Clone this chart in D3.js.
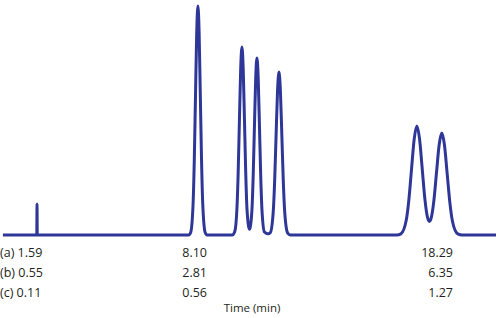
<!DOCTYPE html>
<html>
<head>
<meta charset="utf-8">
<script src="https://cdn.jsdelivr.net/npm/d3@7"></script>
<style>
  html, body { margin: 0; padding: 0; background: #fff; }
  svg { display: block; }
  text { font-family: "Open Sans", sans-serif; fill: #231f20; }
</style>
</head>
<body>
<svg id="chart" width="498" height="318"></svg>
<script>
// Chromatogram trace: [time (min), relative signal]
const baselineStart = [[0.12, 0], [1.48, 0]];
const voidSpike = [[1.52, 0], [1.53, 13.5], [1.54, 0]];
const peakA = [
  [7.80, 0], [7.88, 1.1], [7.98, 13.5], [8.03, 32.4], [8.08, 60.4], [8.13, 87.9],
  [8.18, 99.6], [8.23, 87.9], [8.28, 60.4], [8.33, 32.4], [8.38, 13.5], [8.48, 1.1], [8.56, 0]
];
const peakTriplet = [
  [9.60, 0], [9.70, 1.4], [9.79, 11.0], [9.845, 27.5], [9.895, 49.6], [9.948, 72.3],
  [10.00, 81.7], [10.052, 72.3], [10.105, 49.6], [10.155, 27.5], [10.21, 11.0],
  [10.31, 2.5],
  [10.41, 10.4], [10.465, 26.0], [10.515, 46.7], [10.568, 68.1], [10.62, 77.0],
  [10.672, 68.1], [10.725, 46.7], [10.775, 26.0], [10.83, 10.4], [10.93, 1.3],
  [11.075, 0.5], [11.17, 1.0],
  [11.29, 9.6], [11.35, 23.0], [11.41, 43.0], [11.47, 62.5], [11.53, 70.9],
  [11.59, 62.5], [11.65, 43.0], [11.71, 23.0], [11.77, 9.6], [11.89, 0.8], [12.00, 0]
];
const peakPair = [
  [16.40, 0], [16.57, 0.5], [16.79, 6.4], [16.90, 15.4], [17.01, 28.8], [17.12, 41.8],
  [17.23, 47.4], [17.34, 41.8], [17.45, 28.9], [17.56, 15.7], [17.67, 7.6],
  [17.745, 5.9], [17.82, 7.3], [17.93, 14.7], [18.04, 27.0], [18.15, 39.1],
  [18.26, 44.3], [18.37, 39.1], [18.48, 26.9], [18.59, 14.4], [18.70, 6.0],
  [18.92, 0.5], [19.10, 0]
];
const baselineEnd = [[20.50, 0]];

// Retention-time table rows
const rowLabels = ["(a)", "(b)", "(c)"];
const timesFirst = [1.59, 0.55, 0.11];
const timesSecond = [8.10, 2.81, 0.56];
const timesLast = [18.29, 6.35, 1.27];
const axisTitle = "Time (min)";

const svg = d3.select("#chart");
const x = d3.scaleLinear().domain([0, 20.5]).range([0, 496]);
const y = d3.scaleLinear().domain([0, 100]).range([235, 5]);

const trace = [].concat(baselineStart, voidSpike, peakA, peakTriplet, peakPair, baselineEnd);

const line = d3.line()
  .x(d => x(d[0]))
  .y(d => y(d[1]))
  .curve(d3.curveMonotoneX);

svg.append("path")
  .datum(trace)
  .attr("d", line)
  .attr("fill", "none")
  .attr("stroke", "#2e3797")
  .attr("stroke-width", 3)
  .attr("stroke-linejoin", "round")
  .attr("stroke-linecap", "butt");

const rowY = [257, 277, 297];
const g = svg.append("g").attr("font-size", 12.5);

g.selectAll("text.c1").data(rowLabels).join("text")
  .attr("class", "c1")
  .attr("x", 0).attr("y", (d, i) => rowY[i])
  .text((d, i) => d + " " + timesFirst[i].toFixed(2));

g.selectAll("text.c2").data(timesSecond).join("text")
  .attr("class", "c2")
  .attr("x", 207).attr("y", (d, i) => rowY[i])
  .attr("text-anchor", "end")
  .text(d => d.toFixed(2));

g.selectAll("text.c3").data(timesLast).join("text")
  .attr("class", "c3")
  .attr("x", 453).attr("y", (d, i) => rowY[i])
  .attr("text-anchor", "end")
  .text(d => d.toFixed(2));

svg.append("text")
  .attr("x", 252).attr("y", 312)
  .attr("font-size", 11.5)
  .attr("text-anchor", "middle")
  .text(axisTitle);
</script>
</body>
</html>
